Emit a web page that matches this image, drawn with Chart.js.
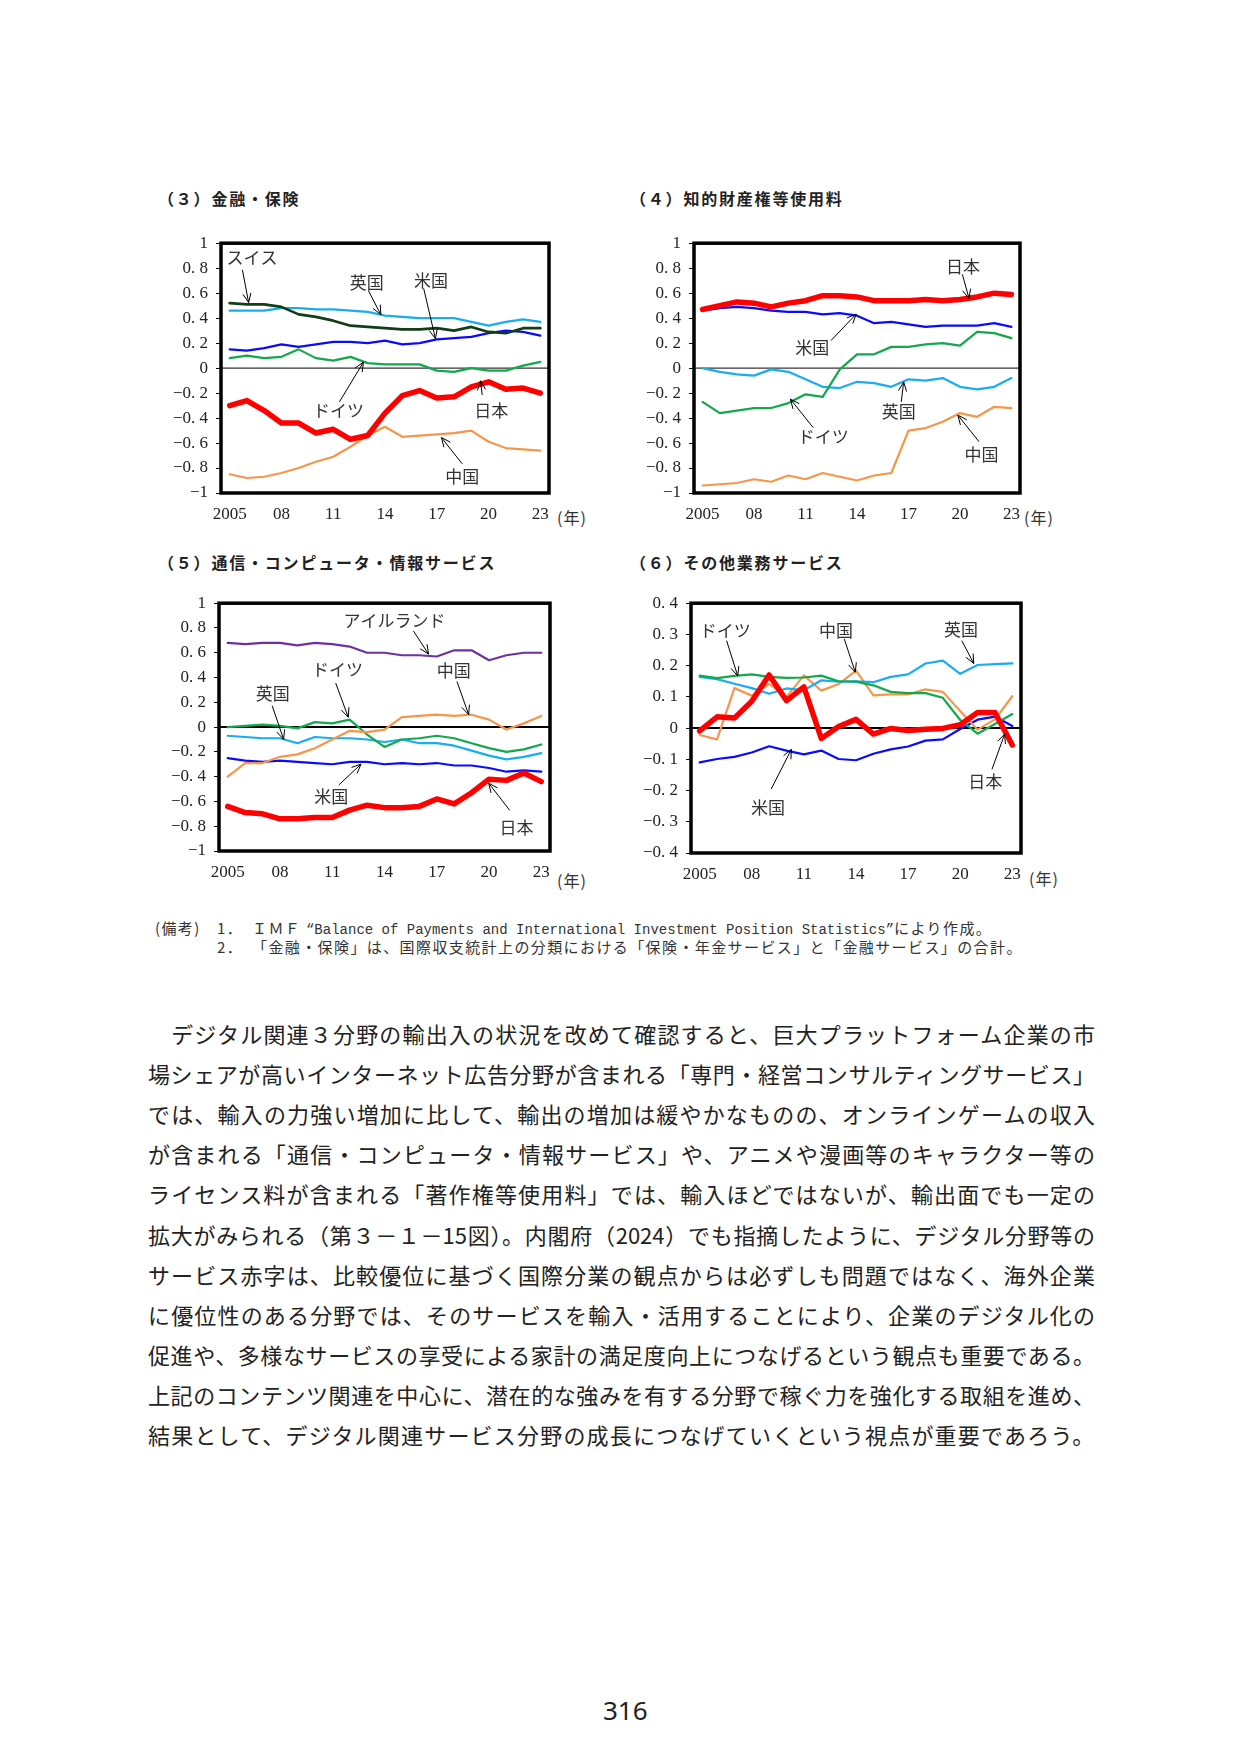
<!DOCTYPE html>
<html><head><meta charset="utf-8">
<script src="https://cdn.jsdelivr.net/npm/chart.js@4.4.1/dist/chart.umd.min.js"></script>
<style>
html,body{margin:0;padding:0;background:#fff;}
body{width:1241px;height:1755px;position:relative;overflow:hidden;font-family:"Noto Sans CJK JP",sans-serif;color:#222;}
.abs{position:absolute;white-space:nowrap;}
.title{font-size:16px;font-weight:bold;letter-spacing:1.8px;line-height:20px;color:#222;}
.nen{font-family:"Noto Sans CJK JP";font-size:16px;line-height:20px;color:#333;letter-spacing:1px;}
.note{font-size:15px;letter-spacing:1.4px;line-height:20px;color:#333;}
.mono{font-family:"Liberation Mono",monospace;font-size:14px;letter-spacing:0;}
.body{font-size:22px;line-height:30px;width:947px;text-align:justify;text-align-last:justify;color:#222;}
canvas{position:absolute;}
</style></head><body>

<div class="abs title" style="left:158px;top:188px;">（３）金融・保険</div>
<div class="abs title" style="left:630px;top:188px;">（４）知的財産権等使用料</div>
<div class="abs title" style="left:158px;top:552px;">（５）通信・コンピュータ・情報サービス</div>
<div class="abs title" style="left:630px;top:552px;">（６）その他業務サービス</div>

<div class="abs nen" style="left:557px;top:507px;">(年)</div>
<div class="abs nen" style="left:1024px;top:507px;">(年)</div>
<div class="abs nen" style="left:557px;top:870px;">(年)</div>
<div class="abs nen" style="left:1029px;top:868px;">(年)</div>

<div class="abs note" style="left:155px;top:918px;">(備考)</div>
<div class="abs note" style="left:217px;top:918px;">1．</div>
<div class="abs note" style="left:252px;top:918px;">ＩＭＦ <span class="mono">“Balance of Payments and International Investment Position Statistics”</span>により作成。</div>
<div class="abs note" style="left:217px;top:937px;">2．</div>
<div class="abs note" style="left:252px;top:937px;">「金融・保険」は、国際収支統計上の分類における「保険・年金サービス」と「金融サービス」の合計。</div>

<div id="bodytext"></div>

<div class="abs" style="left:603px;top:1693px;font-family:'Noto Sans',sans-serif;font-size:26px;line-height:34px;color:#222;">316</div>

<script>
// ---------- data ----------
const years = [2005,2006,2007,2008,2009,2010,2011,2012,2013,2014,2015,2016,2017,2018,2019,2020,2021,2022,2023];
const xTickLabels = ['2005','08','11','14','17','20','23'];

// (3) 金融・保険
const fin_JP = [-0.30,-0.26,-0.34,-0.44,-0.44,-0.52,-0.49,-0.57,-0.54,-0.36,-0.22,-0.18,-0.24,-0.23,-0.15,-0.11,-0.17,-0.16,-0.20];
const fin_CH = [0.52,0.51,0.51,0.49,0.43,0.41,0.38,0.34,0.33,0.32,0.31,0.31,0.32,0.30,0.33,0.29,0.28,0.32,0.32];
const fin_UK = [0.46,0.46,0.46,0.48,0.48,0.47,0.47,0.46,0.45,0.42,0.41,0.40,0.40,0.40,0.37,0.34,0.37,0.39,0.37];
const fin_US = [0.15,0.14,0.16,0.19,0.17,0.19,0.21,0.21,0.20,0.22,0.19,0.20,0.23,0.24,0.25,0.28,0.30,0.29,0.26];
const fin_DE = [0.08,0.10,0.08,0.09,0.15,0.08,0.06,0.09,0.04,0.03,0.03,0.03,-0.02,-0.03,0.00,-0.02,-0.02,0.02,0.05];
const fin_CN = [-0.85,-0.88,-0.87,-0.84,-0.80,-0.75,-0.71,-0.63,-0.54,-0.47,-0.55,-0.54,-0.53,-0.52,-0.50,-0.59,-0.64,-0.65,-0.66];

// (4) 知的財産権等使用料
const ip_JP = [0.47,0.50,0.53,0.52,0.49,0.52,0.54,0.58,0.58,0.57,0.54,0.54,0.54,0.55,0.54,0.55,0.57,0.60,0.59];
const ip_US = [0.46,0.48,0.49,0.48,0.46,0.45,0.45,0.43,0.44,0.42,0.36,0.37,0.35,0.33,0.34,0.34,0.34,0.36,0.33];
const ip_DE = [-0.27,-0.36,-0.34,-0.32,-0.32,-0.28,-0.21,-0.23,-0.01,0.11,0.11,0.17,0.17,0.19,0.20,0.18,0.29,0.28,0.24];
const ip_UK = [0.00,-0.03,-0.05,-0.06,-0.01,-0.03,-0.09,-0.15,-0.16,-0.11,-0.12,-0.15,-0.09,-0.10,-0.08,-0.15,-0.17,-0.15,-0.08];
const ip_CN = [-0.94,-0.93,-0.92,-0.89,-0.91,-0.86,-0.89,-0.84,-0.87,-0.90,-0.86,-0.84,-0.50,-0.48,-0.43,-0.36,-0.39,-0.31,-0.32];

// (5) 通信・コンピュータ・情報サービス
const ict_JP = [-0.64,-0.69,-0.70,-0.74,-0.74,-0.73,-0.73,-0.67,-0.63,-0.65,-0.65,-0.64,-0.58,-0.62,-0.53,-0.42,-0.43,-0.37,-0.44];
const ict_IE = [0.68,0.67,0.68,0.68,0.66,0.68,0.67,0.65,0.60,0.60,0.58,0.58,0.57,0.62,0.62,0.54,0.58,0.60,0.60];
const ict_CN = [-0.40,-0.29,-0.29,-0.24,-0.22,-0.17,-0.10,-0.03,-0.04,-0.02,0.08,0.09,0.10,0.09,0.10,0.06,-0.02,0.03,0.09];
const ict_DE = [0.00,0.01,0.02,0.01,-0.01,0.04,0.03,0.06,-0.06,-0.16,-0.10,-0.09,-0.07,-0.09,-0.13,-0.17,-0.20,-0.18,-0.14];
const ict_UK = [-0.07,-0.08,-0.09,-0.09,-0.13,-0.08,-0.09,-0.09,-0.10,-0.12,-0.10,-0.13,-0.13,-0.15,-0.19,-0.23,-0.26,-0.24,-0.21];
const ict_US = [-0.25,-0.27,-0.28,-0.27,-0.28,-0.29,-0.30,-0.28,-0.28,-0.30,-0.29,-0.30,-0.29,-0.31,-0.31,-0.33,-0.36,-0.35,-0.36];

// (6) その他業務サービス
const oth_JP = [-0.009,0.036,0.032,0.086,0.170,0.088,0.132,-0.033,0.005,0.028,-0.019,-0.001,-0.008,-0.004,-0.001,0.011,0.050,0.050,-0.054];
const oth_DE = [0.168,0.160,0.167,0.172,0.164,0.161,0.162,0.168,0.150,0.149,0.137,0.116,0.112,0.112,0.097,0.026,-0.018,0.013,0.045];
const oth_UK = [0.164,0.157,0.142,0.128,0.110,0.127,0.121,0.153,0.149,0.150,0.147,0.164,0.172,0.207,0.216,0.174,0.202,0.205,0.207];
const oth_CN = [-0.022,-0.036,0.128,0.104,0.142,0.100,0.169,0.120,0.141,0.184,0.105,0.108,0.108,0.124,0.116,0.055,-0.005,0.028,0.102];
const oth_US = [-0.110,-0.099,-0.092,-0.078,-0.058,-0.072,-0.084,-0.072,-0.099,-0.103,-0.082,-0.068,-0.059,-0.040,-0.036,-0.003,0.027,0.037,0.007];

// annotation labels (positions in data space: [category index, value])
const finNotes = [
  {text:'スイス', at:[1.3,0.887], from:[0.74,0.787], to:[1.1,0.525]},
  {text:'英国', at:[7.95,0.685], from:[8.04,0.62], to:[8.76,0.428]},
  {text:'米国', at:[11.67,0.703], from:[11.24,0.638], to:[11.92,0.236]},
  {text:'ドイツ', at:[6.3,-0.341], from:[6.36,-0.27], to:[7.75,0.047]},
  {text:'日本', at:[15.16,-0.341], from:[14.63,-0.215], to:[14.53,-0.102]},
  {text:'中国', at:[13.47,-0.866], from:[13.47,-0.766], to:[12.27,-0.556]}
];
const ipNotes = [
  {text:'日本', at:[15.18,0.817], from:[15.14,0.751], to:[15.53,0.557]},
  {text:'米国', at:[6.39,0.167], from:[7.48,0.22], to:[8.95,0.432]},
  {text:'ドイツ', at:[7.03,-0.549], from:[6.45,-0.477], to:[5.12,-0.249]},
  {text:'英国', at:[11.43,-0.345], from:[11.58,-0.27], to:[11.72,-0.111]},
  {text:'中国', at:[16.25,-0.69], from:[16.11,-0.589], to:[14.88,-0.377]}
];
const ictNotes = [
  {text:'アイルランド', at:[9.57,0.856], from:[10.66,0.776], to:[11.53,0.589]},
  {text:'ドイツ', at:[6.3,0.461], from:[6.2,0.355], to:[6.92,0.08]},
  {text:'中国', at:[12.97,0.453], from:[13.16,0.368], to:[13.83,0.101]},
  {text:'英国', at:[2.59,0.269], from:[2.55,0.173], to:[3.21,-0.099]},
  {text:'米国', at:[5.95,-0.557], from:[6.38,-0.467], to:[7.65,-0.299]},
  {text:'日本', at:[16.58,-0.813], from:[16.19,-0.672], to:[14.98,-0.453]}
];
const othNotes = [
  {text:'ドイツ', at:[1.47,0.314], from:[1.55,0.28], to:[2.19,0.167]},
  {text:'中国', at:[7.85,0.312], from:[8.32,0.286], to:[8.96,0.179]},
  {text:'英国', at:[15.05,0.317], from:[15.09,0.28], to:[15.78,0.207]},
  {text:'米国', at:[3.93,-0.253], from:[4.12,-0.195], to:[5.28,-0.068]},
  {text:'日本', at:[16.44,-0.171], from:[16.83,-0.132], to:[17.56,-0.019]}
];

const bodyLines = [
  '　デジタル関連３分野の輸出入の状況を改めて確認すると、巨大プラットフォーム企業の市',
  '場シェアが高いインターネット広告分野が含まれる「専門・経営コンサルティングサービス」',
  'では、輸入の力強い増加に比して、輸出の増加は緩やかなものの、オンラインゲームの収入',
  'が含まれる「通信・コンピュータ・情報サービス」や、アニメや漫画等のキャラクター等の',
  'ライセンス料が含まれる「著作権等使用料」では、輸入ほどではないが、輸出面でも一定の',
  '拡大がみられる（第３－１－15図）。内閣府（2024）でも指摘したように、デジタル分野等の',
  'サービス赤字は、比較優位に基づく国際分業の観点からは必ずしも問題ではなく、海外企業',
  'に優位性のある分野では、そのサービスを輸入・活用することにより、企業のデジタル化の',
  '促進や、多様なサービスの享受による家計の満足度向上につなげるという観点も重要である。',
  '上記のコンテンツ関連を中心に、潜在的な強みを有する分野で稼ぐ力を強化する取組を進め、',
  '結果として、デジタル関連サービス分野の成長につなげていくという視点が重要であろう。'
];

// ---------- body text ----------
const bt = document.getElementById('bodytext');
bodyLines.forEach((t,k)=>{
  const d = document.createElement('div');
  d.className = 'abs body';
  d.style.left = '148px';
  d.style.top = (1018 + k*40.1) + 'px';
  d.textContent = t;
  if (k === bodyLines.length-1) { d.style.textAlignLast = 'left'; d.style.letterSpacing = '1.2px'; }
  bt.appendChild(d);
});

// ---------- chart helpers ----------
const COL = {red:'#ff0000', orange:'#f7964a', lblue:'#18adf0', blue:'#0a0aff', green:'#12a84c', dgreen:'#113d17', purple:'#7030a0'};
const tickFont = {family:'"Liberation Serif", serif', size:17};

function fmtTick(v){
  const r = Math.round(v*10)/10;
  if (r === 0) return '0';
  if (Math.abs(r) === 1) return r < 0 ? '−1' : '1';
  const s = Math.abs(r).toFixed(1).replace('.', '. ');
  return (r < 0 ? '−' : '') + s;
}

function ds(data, color, width){
  return {data, borderColor:color, borderWidth:width, pointRadius:0, tension:0, fill:false, borderJoinStyle:'round', borderCapStyle:'round'};
}

const decoPlugin = {
  id:'deco',
  beforeDatasetsDraw(chart, args, opts){
    const {ctx, chartArea:a, scales:{y}} = chart;
    const y0 = y.getPixelForValue(0);
    ctx.save();
    ctx.strokeStyle = '#000'; ctx.lineWidth = opts.zeroWidth;
    ctx.beginPath(); ctx.moveTo(a.left, y0); ctx.lineTo(a.right, y0); ctx.stroke();
    ctx.restore();
  },
  afterDatasetsDraw(chart, args, opts){
    const {ctx, chartArea:a, scales:{x,y}} = chart;
    const p0 = x.getPixelForValue(0), step = x.getPixelForValue(1) - p0;
    const px = i => p0 + i*step;
    ctx.save();
    ctx.font = '17px "Noto Sans CJK JP"';
    ctx.fillStyle = '#333'; ctx.textAlign = 'center'; ctx.textBaseline = 'middle';
    for (const n of opts.notes){
      ctx.fillText(n.text, px(n.at[0]), y.getPixelForValue(n.at[1]));
      const x1 = px(n.from[0]), y1 = y.getPixelForValue(n.from[1]);
      const x2 = px(n.to[0]), y2 = y.getPixelForValue(n.to[1]);
      const ang = Math.atan2(y2-y1, x2-x1), L = 10, w = 0.42;
      ctx.strokeStyle = '#000'; ctx.lineWidth = 1;
      ctx.beginPath();
      ctx.moveTo(x1, y1); ctx.lineTo(x2, y2);
      ctx.moveTo(x2 - L*Math.cos(ang-w), y2 - L*Math.sin(ang-w));
      ctx.lineTo(x2, y2);
      ctx.lineTo(x2 - L*Math.cos(ang+w), y2 - L*Math.sin(ang+w));
      ctx.stroke();
    }
    ctx.lineWidth = 3.5; ctx.strokeStyle = '#000';
    ctx.strokeRect(a.left, a.top, a.right-a.left, a.bottom-a.top);
    ctx.restore();
  }
};

function panel(rect, plot, yMin, yMax, step, datasets, notes, zeroWidth){
  const c = document.createElement('canvas');
  c.width = rect.w; c.height = rect.h;
  c.style.left = rect.l + 'px'; c.style.top = rect.t + 'px';
  c.style.width = rect.w + 'px'; c.style.height = rect.h + 'px';
  document.body.appendChild(c);
  new Chart(c, {
    type:'line',
    data:{labels: years, datasets},
    options:{
      responsive:false, animation:false, events:[],
      layout:{padding:{left:0, top:plot.t-rect.t, right:rect.l+rect.w-plot.r, bottom:0}},
      plugins:{legend:{display:false}, tooltip:{enabled:false}, deco:{notes, zeroWidth}},
      scales:{
        x:{type:'category', offset:true,
           grid:{display:false, drawTicks:false}, border:{display:false},
           ticks:{autoSkip:false, maxRotation:0, minRotation:0, padding:11, font:tickFont, color:'#222',
                  callback:(v,i)=> i%3===0 ? xTickLabels[i/3] : ''},
           afterFit:s=>{ s.height = rect.t + rect.h - plot.b; }},
        y:{min:yMin, max:yMax,
           grid:{display:true, drawOnChartArea:false, drawTicks:true, tickLength:5, color:'#000', lineWidth:1},
           border:{display:false},
           ticks:{stepSize:step, padding:8, font:tickFont, color:'#222', callback:fmtTick},
           afterFit:s=>{ s.width = plot.l - rect.l; }}
      }
    },
    plugins:[decoPlugin]
  });
}

// (3)
panel({l:150,t:225,w:450,h:305}, {l:221,t:239,r:549,b:493}, -1, 1, 0.2, [
  ds(fin_JP, COL.red, 5.5),
  ds(fin_CH, COL.dgreen, 2.6),
  ds(fin_UK, COL.lblue, 2.2),
  ds(fin_US, COL.blue, 2.2),
  ds(fin_DE, COL.green, 2.2),
  ds(fin_CN, COL.orange, 2.2)
], finNotes, 1);

// (4)
panel({l:620,t:225,w:445,h:305}, {l:694,t:240,r:1020,b:493}, -1, 1, 0.2, [
  ds(ip_JP, COL.red, 5.5),
  ds(ip_US, COL.blue, 2.2),
  ds(ip_DE, COL.green, 2.2),
  ds(ip_UK, COL.lblue, 2.2),
  ds(ip_CN, COL.orange, 2.2)
], ipNotes, 1);

// (5)
panel({l:150,t:585,w:450,h:310}, {l:219,t:601,r:550,b:851}, -1, 1, 0.2, [
  ds(ict_JP, COL.red, 5.5),
  ds(ict_IE, COL.purple, 2.2),
  ds(ict_CN, COL.orange, 2.2),
  ds(ict_DE, COL.green, 2.2),
  ds(ict_UK, COL.lblue, 2.2),
  ds(ict_US, COL.blue, 2.2)
], ictNotes, 2);

// (6)
panel({l:620,t:585,w:445,h:310}, {l:691,t:598,r:1021,b:853}, -0.4, 0.4, 0.1, [
  ds(oth_JP, COL.red, 5.5),
  ds(oth_DE, COL.green, 2.2),
  ds(oth_UK, COL.lblue, 2.2),
  ds(oth_CN, COL.orange, 2.2),
  ds(oth_US, COL.blue, 2.2)
], othNotes, 2);
</script>
</body></html>
